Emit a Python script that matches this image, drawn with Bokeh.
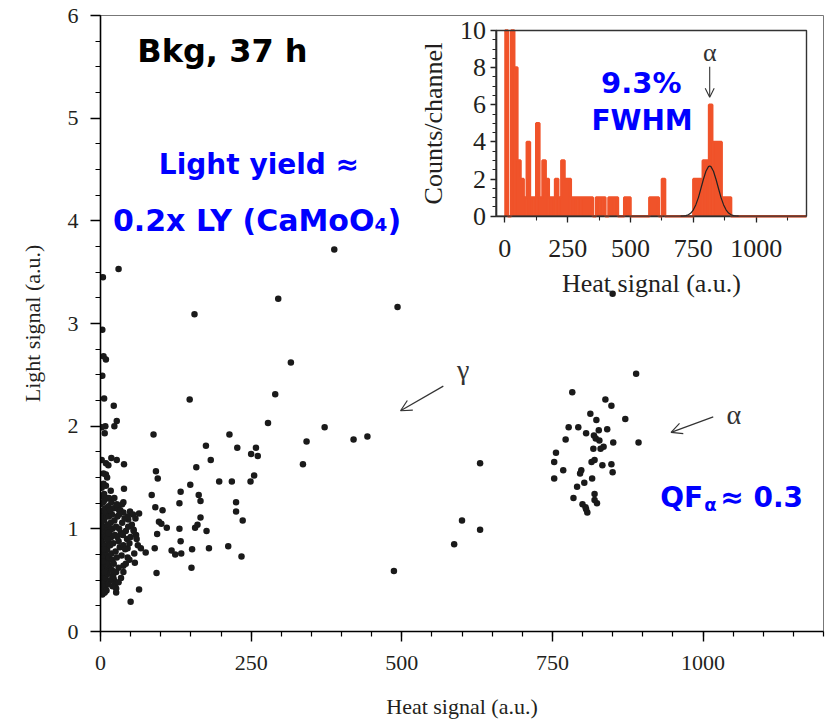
import numpy as np
from bokeh.plotting import figure
from bokeh.models import (Range1d, LinearAxis, SingleIntervalTicker, Label,
                          Arrow, OpenHead)
from bokeh.embed import file_html
from bokeh.resources import INLINE

# ---------------- data ----------------
# gamma / beta band and scattered events (heat, light)
band_heat = [388, 30, 4, 295, 493, 156, 3, 850, 5, 9, 316, 3, 6, 148, 22, 290,
             27, 23, 8, 2, 7, 88, 278, 372, 214, 175, 227, 258, 342, 420, 443,
             250, 261, 183, 336, 159, 255, 197, 218, 249, 149, 133, 163, 166, 131,
             225, 225, 103, 236, 166, 101, 110, 157, 161, 131, 176, 133, 118, 124,
             134, 152, 180, 212, 234, 151, 630, 600, 630, 587, 487,
             2, 9, 18, 27, 39, 13, 5, 9, 11, 92, 95, 17, 39, 85, 38, 36, 91, 30, 38,
             49, 54, 64, 97, 46, 55, 59, 94, 67, 75, 90, 45, 45, 57, 93, 38, 30, 20,
             64, 26, 50, 5, 7, 22, 25]
band_light = [3.72, 3.53, 3.45, 3.24, 3.16, 3.09, 2.94, 3.29, 2.68, 2.65, 2.62, 2.49,
              2.27, 2.26, 2.20, 2.31, 2.05, 2.00, 2.00, 1.99, 1.93, 1.92, 2.03, 1.99,
              1.92, 1.81, 1.79, 1.79, 1.85, 1.87, 1.90, 1.73, 1.71, 1.67, 1.63, 1.60,
              1.52, 1.46, 1.46, 1.46, 1.43, 1.36, 1.33, 1.27, 1.25, 1.26, 1.17, 1.18,
              1.08, 1.11, 1.05, 1.01, 1.01, 1.04, 1.00, 0.98, 0.88, 0.79, 0.75, 0.76,
              0.80, 0.81, 0.83, 0.73, 0.62, 1.64, 1.08, 0.99, 0.85, 0.59,
              1.67, 1.64, 1.69, 1.67, 1.63, 1.62, 1.54, 1.53, 1.50, 1.56, 1.49, 1.37,
              1.39, 1.33, 1.26, 1.24, 1.21, 1.19, 1.16, 1.17, 1.14, 1.15, 1.07, 1.09,
              0.99, 0.94, 0.95, 0.81, 0.77, 0.81, 0.81, 0.72, 0.67, 0.57, 0.64, 0.62,
              0.54, 0.41, 0.38, 0.29, 0.41, 0.38, 0.51, 0.47]

# dense cluster at low heat signal
low_heat = [0, 2, 4, 1, 3, 6, 0, 5, 8, 2, 7, 10, 1, 4, 9, 12, 0, 3, 6, 11, 14, 2, 5, 8,
            13, 16, 0, 4, 7, 10, 15, 18, 1, 3, 6, 9, 12, 17, 20, 2, 5, 8, 11, 14, 19,
            0, 4, 7, 13, 22, 1, 6, 10, 3, 8, 12, 15, 18, 21, 24, 17, 23, 26, 28, 20,
            25, 30, 16, 19, 22, 27, 32, 34, 36, 29, 33, 40, 42, 44, 38, 46, 50, 2, 5,
            9, 0, 1, 3, 5, 7, 9, 11, 13, 14, 16, 18, 21, 24, 26, 28, 31, 35, 10, 13,
            6, 0, 2, 4, 23, 27, 31, 37, 41, 48, 52, 55, 58, 45, 60, 62, 56, 48, 42,
            38, 34, 30, 26, 20]
low_light = [0.42, 0.45, 0.40, 0.50, 0.55, 0.48, 0.58, 0.62, 0.52, 0.66, 0.70, 0.60,
             0.74, 0.78, 0.75, 0.68, 0.82, 0.86, 0.84, 0.80, 0.72, 0.90, 0.94, 0.92,
             0.88, 0.84, 0.98, 1.00, 1.02, 0.98, 0.96, 0.92, 1.06, 1.10, 1.08, 1.12,
             1.04, 1.06, 1.00, 1.16, 1.18, 1.20, 1.16, 1.12, 1.14, 1.24, 1.26, 1.28,
             1.22, 1.20, 1.32, 1.34, 1.30, 0.36, 0.44, 0.56, 0.64, 0.76, 0.86, 0.94,
             1.00, 1.08, 1.02, 1.12, 0.70, 0.78, 0.88, 0.50, 0.60, 0.66, 0.72, 0.82,
             0.96, 1.06, 1.20, 1.18, 1.10, 0.98, 0.90, 0.84, 1.02, 0.92, 1.40, 1.44,
             1.42, 0.88, 0.62, 0.72, 0.80, 0.58, 0.66, 0.90, 0.96, 1.30, 1.18, 1.26,
             0.54, 0.46, 0.58, 0.92, 1.00, 0.74, 0.40, 0.46, 0.38, 1.12, 1.02, 0.68,
             1.30, 1.24, 1.14, 0.94, 0.80, 0.86, 1.04, 0.98, 1.10, 1.12, 0.90, 0.84,
             0.76, 0.70, 0.66, 0.58, 0.52, 0.48, 0.42, 0.44]

# alpha events
alpha_heat = [889, 783, 838, 848, 813, 871, 823, 777, 793, 841, 827, 806, 819, 822,
              828, 772, 851, 893, 818, 830, 835, 756, 753, 815, 820, 833, 848, 768,
              798, 796, 850, 753, 816, 803, 791, 785, 820, 824, 820, 800, 805, 808, 806]
alpha_light = [2.51, 2.33, 2.26, 2.20, 2.12, 2.07, 2.06, 1.99, 1.99, 1.97, 1.96, 1.93,
               1.91, 1.88, 1.86, 1.87, 1.84, 1.84, 1.78, 1.78, 1.80, 1.74, 1.65, 1.65,
               1.67, 1.62, 1.63, 1.57, 1.57, 1.54, 1.55, 1.49, 1.49, 1.45, 1.41, 1.30,
               1.34, 1.25, 1.28, 1.24, 1.21, 1.16, 1.19]

# inset histogram: counts per 12.5 a.u. channel, starting at 0
hist_bin_width = 12.5
hist_counts = [10, 0, 10, 8, 3, 2, 1, 4, 1, 1, 5, 1, 3, 2, 1, 1, 2, 1, 3, 2, 2, 1,
               1, 1, 1, 1, 1, 1, 0, 1, 1, 1, 0, 1, 1, 1, 0, 0, 1, 1, 0, 0, 0, 0, 0,
               0, 1, 1, 1, 0, 2, 0, 0, 0, 0, 0, 0, 0, 0, 0, 2, 2, 2, 3, 3, 6, 4, 4,
               4, 1, 1, 1, 0, 0, 0, 0, 0, 0, 0, 0, 0, 0, 0, 0, 0, 0, 0, 0, 0, 0, 0,
               0, 0, 0, 0, 0]
# gaussian fit of the alpha peak
fit_heat = [700, 710, 720, 730, 740, 750, 760, 770, 780, 790, 800, 810, 815, 820,
            830, 840, 850, 860, 870, 880, 890, 900, 910, 920, 930]
fit_counts = [0.00, 0.01, 0.03, 0.08, 0.17, 0.34, 0.62, 1.00, 1.49, 1.99, 2.42,
              2.67, 2.70, 2.67, 2.42, 1.99, 1.49, 1.00, 0.62, 0.34, 0.17, 0.08,
              0.03, 0.01, 0.00]

# ---------------- layout constants (pixels) ----------------
W, H = 827, 721
FL, FR, FT, FB = 100, 823, 15, 632          # main frame
IL, IR, IT, IB = 495.5, 806, 30, 216        # inset frame
IX0, IX1, IY0, IY1 = -35, 1200, 0, 10       # inset data ranges

def ext(v0, v1, p0, p1, q0, q1):
    s = (p1 - p0) / (v1 - v0)
    return v0 + (q0 - p0) / s, v0 + (q1 - p0) / s

ix_start, ix_end = ext(IX0, IX1, IL, IR, FL, FR)
iy_start, iy_end = ext(IY0, IY1, H - IB, H - IT, H - FB, H - FT)

def inset_x(px):
    return ext(IX0, IX1, IL, IR, px, px)[0]

def inset_y(py):
    return ext(IY0, IY1, H - IB, H - IT, H - py, H - py)[0]

p = figure(width=W, height=H, x_range=Range1d(0, 1200), y_range=Range1d(0, 6),
           output_backend="svg", toolbar_location=None,
           min_border_left=FL, min_border_right=W - FR,
           min_border_top=FT, min_border_bottom=H - FB)
p.extra_x_ranges = {"ix": Range1d(ix_start, ix_end)}
p.extra_y_ranges = {"iy": Range1d(iy_start, iy_end)}
p.xgrid.visible = False
p.ygrid.visible = False
p.background_fill_color = "white"
p.border_fill_color = "white"
p.outline_line_color = "#777777"
p.outline_line_width = 1

SERIF = "Liberation Serif"
SANS = "DejaVu Sans"
BLUE = "#0000ff"
DARK = "#231f20"

xa = p.below[0]
ya = p.left[0]
xa.ticker = SingleIntervalTicker(interval=250, num_minor_ticks=5)
ya.ticker = SingleIntervalTicker(interval=1, num_minor_ticks=4)
xa.axis_label = "Heat signal (a.u.)"
ya.axis_label = "Light signal (a.u.)"
for ax in (xa, ya):
    ax.axis_line_color = "black"
    ax.axis_line_width = 1.6
    ax.major_tick_line_color = "black"
    ax.minor_tick_line_color = "black"
    ax.major_tick_line_width = 1.4
    ax.minor_tick_line_width = 1.2
    ax.major_tick_in = 0
    ax.minor_tick_in = 0
    ax.major_tick_out = 10
    ax.minor_tick_out = 5
    ax.major_label_text_font = SERIF
    ax.major_label_text_font_size = "22px"
    ax.major_label_text_color = DARK
    ax.axis_label_text_font = SERIF
    ax.axis_label_text_font_size = "22px"
    ax.axis_label_text_font_style = "normal"
    ax.axis_label_text_color = DARK
xa.major_label_standoff = 14
xa.axis_label_standoff = 21
ya.major_label_standoff = 12
ya.axis_label_standoff = 20

# main scatter
p.scatter(band_heat + low_heat + alpha_heat, band_light + low_light + alpha_light,
          size=6.5, color="#1a1a1a", line_width=0)

# main annotations
def blue_label(x, y, text, size="28px", align="center", **kw):
    return Label(x=x, y=y, text=text, text_font=SANS, text_font_style="bold",
                 text_font_size=size, text_color=BLUE, text_align=align,
                 text_baseline="alphabetic", **kw)

p.add_layout(Label(x=61, y=5.65, text="Bkg, 37 h", text_font=SANS,
                   text_font_style="bold", text_font_size="32px",
                   text_color="black", text_align="left", text_baseline="alphabetic"))
p.add_layout(blue_label(263, 4.55, "Light yield ≈", size="28px"))
p.add_layout(blue_label(260, 4.0, "0.2x LY (CaMoO₄)", size="30px"))
p.add_layout(blue_label(929, 1.31, "QF", align="left"))
p.add_layout(blue_label(929, 1.31, "α", size="18px", align="left", x_offset=44, y_offset=-7))
p.add_layout(blue_label(929, 1.31, "≈ 0.3", align="left", x_offset=60))
p.add_layout(Label(x=602, y=2.55, text="γ", text_font=SERIF, text_font_size="28px",
                   text_color="#333333", text_align="center", text_baseline="middle"))
p.add_layout(Label(x=1051, y=2.11, text="α", text_font=SERIF, text_font_size="28px",
                   text_color="#333333", text_align="center", text_baseline="middle"))
p.add_layout(Arrow(x_start=569, y_start=2.39, x_end=498, y_end=2.15,
                   line_color="#333333", line_width=1.2,
                   end=OpenHead(size=11, line_color="#333333", line_width=1.2)))
p.add_layout(Arrow(x_start=1017, y_start=2.09, x_end=947, y_end=1.94,
                   line_color="#333333", line_width=1.2,
                   end=OpenHead(size=11, line_color="#333333", line_width=1.2)))

# ---------------- inset ----------------
INS = dict(x_range_name="ix", y_range_name="iy")
p.quad(left=inset_x(415), right=inset_x(FR - 2), bottom=inset_y(288), top=inset_y(FT + 1.5),
       fill_color="white", line_color=None, **INS)

edges = np.arange(len(hist_counts) + 1) * hist_bin_width
counts = np.array(hist_counts, dtype=float)
nz = counts > 0
ORANGE = "#f0532a"
p.quad(left=edges[:-1][nz], right=edges[1:][nz], bottom=0, top=counts[nz],
       fill_color=ORANGE, line_color=ORANGE, line_width=1, **INS)
step_x = list(edges)
step_y = list(counts) + [counts[-1]]
p.step(step_x, step_y, mode="after", line_color=ORANGE, line_width=2.5,
       level="annotation", **INS)
p.line(fit_heat, fit_counts, line_color="#222222", line_width=1.2,
       level="annotation", **INS)
p.quad(left=IX0, right=IX1, bottom=IY0, top=IY1, fill_color=None,
       line_color="#333333", line_width=1.4, level="annotation", **INS)

ixa = LinearAxis(x_range_name="ix", y_range_name="iy", fixed_location=IY0,
                 bounds=(IX0, IX1),
                 ticker=SingleIntervalTicker(interval=250, num_minor_ticks=2),
                 axis_label="Heat signal (a.u.)")
iya = LinearAxis(x_range_name="ix", y_range_name="iy", fixed_location=IX0,
                 bounds=(IY0, IY1),
                 ticker=SingleIntervalTicker(interval=2, num_minor_ticks=4),
                 axis_label="Counts/channel")
for ax in (ixa, iya):
    ax.axis_line_color = "#222222"
    ax.axis_line_width = 1.6
    ax.major_tick_line_color = "#222222"
    ax.minor_tick_line_color = "#222222"
    ax.major_tick_line_width = 1.3
    ax.minor_tick_line_width = 1.1
    ax.major_tick_in = 0
    ax.minor_tick_in = 0
    ax.major_tick_out = 6
    ax.minor_tick_out = 4
    ax.major_label_text_font = SERIF
    ax.major_label_text_font_size = "26px"
    ax.major_label_text_color = DARK
    ax.axis_label_text_font = SERIF
    ax.axis_label_text_font_size = "26px"
    ax.axis_label_text_font_style = "normal"
    ax.axis_label_text_color = DARK
ixa.major_label_standoff = 18
ixa.axis_label_standoff = 8
iya.major_label_standoff = 4
iya.axis_label_standoff = 10
p.add_layout(ixa, "below")
p.add_layout(iya, "left")

p.add_layout(Label(x=543, y=7.15, text="9.3%", text_font=SANS, text_font_style="bold",
                   text_font_size="29px", text_color=BLUE, text_align="center",
                   text_baseline="alphabetic", **INS))
p.add_layout(Label(x=546, y=5.17, text="FWHM", text_font=SANS, text_font_style="bold",
                   text_font_size="28px", text_color=BLUE, text_align="center",
                   text_baseline="alphabetic", **INS))
p.add_layout(Label(x=815, y=8.8, text="α", text_font=SERIF, text_font_size="26px",
                   text_color="#333333", text_align="center", text_baseline="middle",
                   **INS))
p.add_layout(Arrow(x_start=815, y_start=8.05, x_end=815, y_end=6.4,
                   line_color="#333333", line_width=1.1,
                   end=OpenHead(size=9, line_color="#333333", line_width=1.1), **INS))

open("out.html", "w").write(file_html(p, INLINE))
